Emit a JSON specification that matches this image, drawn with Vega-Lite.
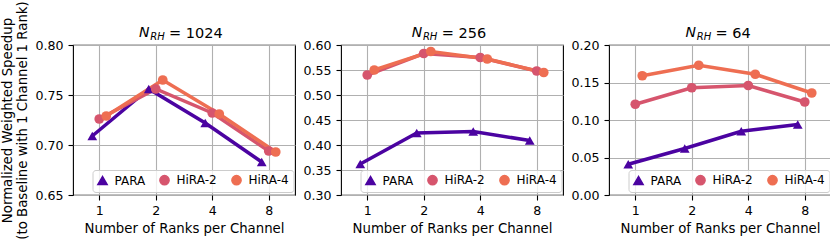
{
  "$schema": "https://vega.github.io/schema/vega-lite/v6.json",
  "padding": {"left": 0, "top": 0, "right": 0, "bottom": 0},
  "config": {
    "font": "DejaVu Sans",
    "view": {"stroke": "black", "strokeWidth": 1.1},
    "axis": {"labelColor": "black", "titleColor": "black", "tickColor": "black", "labelFont": "DejaVu Sans", "titleFont": "DejaVu Sans", "titleFontWeight": "normal"},
    "title": {"color": "black", "font": "DejaVu Sans"},
    "legend": {"labelFont": "DejaVu Sans", "labelColor": "black", "orient": "none", "legendX": 19.5, "legendY": 125, "direction": "horizontal", "labelFontSize": 12, "labelOffset": 6, "columnPadding": 11, "padding": 4, "fillColor": "rgba(255,255,255,0.8)", "strokeColor": "#cccccc", "cornerRadius": 3, "symbolSize": 85}
  },
  "spacing": 6,
  "datasets": {
    "d": [
      {"panel": "p1024", "ranks": 1, "series": "PARA", "value": 0.709},
      {"panel": "p1024", "ranks": 2, "series": "PARA", "value": 0.756},
      {"panel": "p1024", "ranks": 4, "series": "PARA", "value": 0.722},
      {"panel": "p1024", "ranks": 8, "series": "PARA", "value": 0.683},
      {"panel": "p1024", "ranks": 1, "series": "HiRA-2", "value": 0.726},
      {"panel": "p1024", "ranks": 2, "series": "HiRA-2", "value": 0.756},
      {"panel": "p1024", "ranks": 4, "series": "HiRA-2", "value": 0.732},
      {"panel": "p1024", "ranks": 8, "series": "HiRA-2", "value": 0.694},
      {"panel": "p1024", "ranks": 1, "series": "HiRA-4", "value": 0.729},
      {"panel": "p1024", "ranks": 2, "series": "HiRA-4", "value": 0.765},
      {"panel": "p1024", "ranks": 4, "series": "HiRA-4", "value": 0.731},
      {"panel": "p1024", "ranks": 8, "series": "HiRA-4", "value": 0.693},
      {"panel": "p256", "ranks": 1, "series": "PARA", "value": 0.362},
      {"panel": "p256", "ranks": 2, "series": "PARA", "value": 0.424},
      {"panel": "p256", "ranks": 4, "series": "PARA", "value": 0.427},
      {"panel": "p256", "ranks": 8, "series": "PARA", "value": 0.409},
      {"panel": "p256", "ranks": 1, "series": "HiRA-2", "value": 0.540},
      {"panel": "p256", "ranks": 2, "series": "HiRA-2", "value": 0.583},
      {"panel": "p256", "ranks": 4, "series": "HiRA-2", "value": 0.575},
      {"panel": "p256", "ranks": 8, "series": "HiRA-2", "value": 0.548},
      {"panel": "p256", "ranks": 1, "series": "HiRA-4", "value": 0.550},
      {"panel": "p256", "ranks": 2, "series": "HiRA-4", "value": 0.587},
      {"panel": "p256", "ranks": 4, "series": "HiRA-4", "value": 0.572},
      {"panel": "p256", "ranks": 8, "series": "HiRA-4", "value": 0.545},
      {"panel": "p64", "ranks": 1, "series": "PARA", "value": 0.041},
      {"panel": "p64", "ranks": 2, "series": "PARA", "value": 0.062},
      {"panel": "p64", "ranks": 4, "series": "PARA", "value": 0.085},
      {"panel": "p64", "ranks": 8, "series": "PARA", "value": 0.094},
      {"panel": "p64", "ranks": 1, "series": "HiRA-2", "value": 0.121},
      {"panel": "p64", "ranks": 2, "series": "HiRA-2", "value": 0.143},
      {"panel": "p64", "ranks": 4, "series": "HiRA-2", "value": 0.146},
      {"panel": "p64", "ranks": 8, "series": "HiRA-2", "value": 0.124},
      {"panel": "p64", "ranks": 1, "series": "HiRA-4", "value": 0.159},
      {"panel": "p64", "ranks": 2, "series": "HiRA-4", "value": 0.173},
      {"panel": "p64", "ranks": 4, "series": "HiRA-4", "value": 0.161},
      {"panel": "p64", "ranks": 8, "series": "HiRA-4", "value": 0.136}
    ]
  },
  "resolve": {
    "scale": {"color": "independent", "shape": "independent"},
    "legend": {"color": "independent", "shape": "independent"}
  },
  "hconcat": [
    {
      "width": 222, "height": 150,
      "data": {"name": "d"},
      "transform": [{"filter": "datum.panel == 'p1024'"}],
      "title": {"text": "N", "anchor": "start", "frame": "group", "dx": 66, "fontStyle": "italic", "fontSize": 14, "fontWeight": "normal", "baseline": "alphabetic", "offset": -50.4},
      "layer": [
        {
          "mark": {"type": "line", "strokeWidth": 3.5},
          "encoding": {
            "x": {"field": "ranks", "type": "ordinal", "scale": {"type": "point", "padding": 0.465},
                  "axis": {"orient": "bottom", "title": "Number of Ranks per Channel", "labelAngle": 0, "labelFontSize": 12.6, "titleFontSize": 13.3, "tickSize": 5, "tickWidth": 1.1, "labelPadding": 4, "titlePadding": 5, "domain": false, "grid": true, "gridColor": "#b0b0b0", "gridWidth": 1.1}},
            "xOffset": {"field": "series", "type": "nominal", "scale": {"type": "point", "domain": ["PARA", "HiRA-2", "HiRA-4"], "range": [-7, 7], "padding": 0}},
            "y": {"field": "value", "type": "quantitative", "scale": {"domain": [0.65, 0.8], "nice": false, "zero": false},
                  "axis": {"orient": "left", "values": [0.65, 0.7, 0.75, 0.8], "format": ".2f", "title": ["Normalized Weighted Speedup", "(to Baseline with 1 Channel 1 Rank)"], "titleFontSize": 13.3, "titleLineHeight": 15, "titlePadding": 5, "labelFontSize": 12.6, "tickSize": 5, "tickWidth": 1.1, "labelPadding": 5, "domain": false, "grid": true, "gridColor": "#b0b0b0", "gridWidth": 1.1}},
            "color": {"field": "series", "type": "nominal", "scale": {"domain": ["PARA", "HiRA-2", "HiRA-4"], "range": ["#4b03a1", "#d6556d", "#ee6e52"]}, "legend": {"title": null}}
          }
        },
        {
          "mark": {"type": "point", "filled": true, "size": 95, "opacity": 1},
          "encoding": {
            "x": {"field": "ranks", "type": "ordinal", "scale": {"type": "point", "padding": 0.465},
                  "axis": {"orient": "top", "title": "RH", "titleFontSize": 10, "titleFontStyle": "italic", "titleX": 76.7, "titleY": -5.3, "titleAlign": "left", "titleBaseline": "alphabetic", "titleAngle": 0, "labels": false, "ticks": false, "domain": false, "grid": false}},
            "xOffset": {"field": "series", "type": "nominal", "scale": {"type": "point", "domain": ["PARA", "HiRA-2", "HiRA-4"], "range": [-7, 7], "padding": 0}},
            "y": {"field": "value", "type": "quantitative", "scale": {"domain": [0.65, 0.8], "nice": false, "zero": false},
                  "axis": {"orient": "right", "title": "=  1024", "titleFontSize": 14.5, "titleX": -126.5, "titleY": -7.6, "titleAlign": "left", "titleBaseline": "alphabetic", "titleAngle": 0, "labels": false, "ticks": false, "domain": false, "grid": false}},
            "color": {"field": "series", "type": "nominal", "scale": {"domain": ["PARA", "HiRA-2", "HiRA-4"], "range": ["#4b03a1", "#d6556d", "#ee6e52"]}, "legend": {"title": null}},
            "shape": {"field": "series", "type": "nominal", "scale": {"domain": ["PARA", "HiRA-2", "HiRA-4"], "range": ["triangle-up", "circle", "circle"]}, "legend": {"title": null}}
          }
        }
      ],
      "resolve": {"axis": {"x": "independent", "y": "independent"}}
    },
    {
      "width": 222, "height": 150,
      "data": {"name": "d"},
      "transform": [{"filter": "datum.panel == 'p256'"}],
      "title": {"text": "N", "anchor": "start", "frame": "group", "dx": 70.7, "fontStyle": "italic", "fontSize": 14, "fontWeight": "normal", "baseline": "alphabetic", "offset": -25.4},
      "layer": [
        {
          "mark": {"type": "line", "strokeWidth": 3.5},
          "encoding": {
            "x": {"field": "ranks", "type": "ordinal", "scale": {"type": "point", "padding": 0.465},
                  "axis": {"orient": "bottom", "title": "Number of Ranks per Channel", "labelAngle": 0, "labelFontSize": 12.6, "titleFontSize": 13.3, "tickSize": 5, "tickWidth": 1.1, "labelPadding": 4, "titlePadding": 5, "domain": false, "grid": true, "gridColor": "#b0b0b0", "gridWidth": 1.1}},
            "xOffset": {"field": "series", "type": "nominal", "scale": {"type": "point", "domain": ["PARA", "HiRA-2", "HiRA-4"], "range": [-7, 7], "padding": 0}},
            "y": {"field": "value", "type": "quantitative", "scale": {"domain": [0.3, 0.6], "nice": false, "zero": false},
                  "axis": {"orient": "left", "values": [0.3, 0.35, 0.4, 0.45, 0.5, 0.55, 0.6], "format": ".2f", "title": null, "labelFontSize": 12.6, "tickSize": 5, "tickWidth": 1.1, "labelPadding": 5, "domain": false, "grid": true, "gridColor": "#b0b0b0", "gridWidth": 1.1}},
            "color": {"field": "series", "type": "nominal", "scale": {"domain": ["PARA", "HiRA-2", "HiRA-4"], "range": ["#4b03a1", "#d6556d", "#ee6e52"]}, "legend": {"title": null}}
          }
        },
        {
          "mark": {"type": "point", "filled": true, "size": 95, "opacity": 1},
          "encoding": {
            "x": {"field": "ranks", "type": "ordinal", "scale": {"type": "point", "padding": 0.465},
                  "axis": {"orient": "top", "title": "RH", "titleFontSize": 10, "titleFontStyle": "italic", "titleX": 81.4, "titleY": -5.3, "titleAlign": "left", "titleBaseline": "alphabetic", "titleAngle": 0, "labels": false, "ticks": false, "domain": false, "grid": false}},
            "xOffset": {"field": "series", "type": "nominal", "scale": {"type": "point", "domain": ["PARA", "HiRA-2", "HiRA-4"], "range": [-7, 7], "padding": 0}},
            "y": {"field": "value", "type": "quantitative", "scale": {"domain": [0.3, 0.6], "nice": false, "zero": false},
                  "axis": {"orient": "right", "title": "=  256", "titleFontSize": 14.5, "titleX": -121.8, "titleY": -7.6, "titleAlign": "left", "titleBaseline": "alphabetic", "titleAngle": 0, "labels": false, "ticks": false, "domain": false, "grid": false}},
            "color": {"field": "series", "type": "nominal", "scale": {"domain": ["PARA", "HiRA-2", "HiRA-4"], "range": ["#4b03a1", "#d6556d", "#ee6e52"]}, "legend": {"title": null}},
            "shape": {"field": "series", "type": "nominal", "scale": {"domain": ["PARA", "HiRA-2", "HiRA-4"], "range": ["triangle-up", "circle", "circle"]}, "legend": {"title": null}}
          }
        }
      ],
      "resolve": {"axis": {"x": "independent", "y": "independent"}}
    },
    {
      "width": 222, "height": 150,
      "data": {"name": "d"},
      "transform": [{"filter": "datum.panel == 'p64'"}],
      "title": {"text": "N", "anchor": "start", "frame": "group", "dx": 76.6, "fontStyle": "italic", "fontSize": 14, "fontWeight": "normal", "baseline": "alphabetic", "offset": -25.4},
      "layer": [
        {
          "mark": {"type": "line", "strokeWidth": 3.5},
          "encoding": {
            "x": {"field": "ranks", "type": "ordinal", "scale": {"type": "point", "padding": 0.465},
                  "axis": {"orient": "bottom", "title": "Number of Ranks per Channel", "labelAngle": 0, "labelFontSize": 12.6, "titleFontSize": 13.3, "tickSize": 5, "tickWidth": 1.1, "labelPadding": 4, "titlePadding": 5, "domain": false, "grid": true, "gridColor": "#b0b0b0", "gridWidth": 1.1}},
            "xOffset": {"field": "series", "type": "nominal", "scale": {"type": "point", "domain": ["PARA", "HiRA-2", "HiRA-4"], "range": [-7, 7], "padding": 0}},
            "y": {"field": "value", "type": "quantitative", "scale": {"domain": [0, 0.2], "nice": false, "zero": false},
                  "axis": {"orient": "left", "values": [0, 0.05, 0.1, 0.15, 0.2], "format": ".2f", "title": null, "labelFontSize": 12.6, "tickSize": 5, "tickWidth": 1.1, "labelPadding": 5, "domain": false, "grid": true, "gridColor": "#b0b0b0", "gridWidth": 1.1}},
            "color": {"field": "series", "type": "nominal", "scale": {"domain": ["PARA", "HiRA-2", "HiRA-4"], "range": ["#4b03a1", "#d6556d", "#ee6e52"]}, "legend": {"title": null}}
          }
        },
        {
          "mark": {"type": "point", "filled": true, "size": 95, "opacity": 1},
          "encoding": {
            "x": {"field": "ranks", "type": "ordinal", "scale": {"type": "point", "padding": 0.465},
                  "axis": {"orient": "top", "title": "RH", "titleFontSize": 10, "titleFontStyle": "italic", "titleX": 87.3, "titleY": -5.3, "titleAlign": "left", "titleBaseline": "alphabetic", "titleAngle": 0, "labels": false, "ticks": false, "domain": false, "grid": false}},
            "xOffset": {"field": "series", "type": "nominal", "scale": {"type": "point", "domain": ["PARA", "HiRA-2", "HiRA-4"], "range": [-7, 7], "padding": 0}},
            "y": {"field": "value", "type": "quantitative", "scale": {"domain": [0, 0.2], "nice": false, "zero": false},
                  "axis": {"orient": "right", "title": "=  64", "titleFontSize": 14.5, "titleX": -115.9, "titleY": -7.6, "titleAlign": "left", "titleBaseline": "alphabetic", "titleAngle": 0, "labels": false, "ticks": false, "domain": false, "grid": false}},
            "color": {"field": "series", "type": "nominal", "scale": {"domain": ["PARA", "HiRA-2", "HiRA-4"], "range": ["#4b03a1", "#d6556d", "#ee6e52"]}, "legend": {"title": null}},
            "shape": {"field": "series", "type": "nominal", "scale": {"domain": ["PARA", "HiRA-2", "HiRA-4"], "range": ["triangle-up", "circle", "circle"]}, "legend": {"title": null}}
          }
        }
      ],
      "resolve": {"axis": {"x": "independent", "y": "independent"}}
    }
  ]
}
